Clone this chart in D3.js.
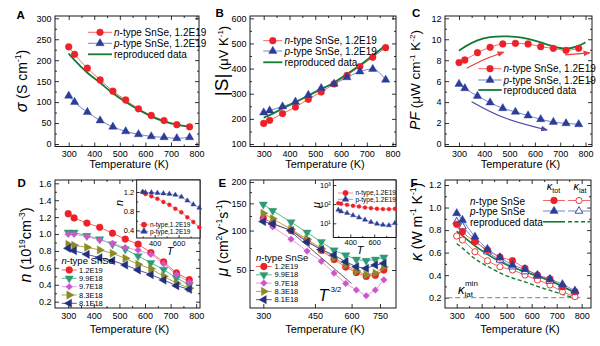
<!DOCTYPE html>
<html><head><meta charset="utf-8">
<script src="https://cdn.jsdelivr.net/npm/d3@7"></script>
<style>body{margin:0;background:#fff}</style>
</head><body>
<svg id="c" width="600" height="346" xmlns="http://www.w3.org/2000/svg"></svg>
<script>
// ---------------- DATA ----------------
const T = [300,323,373,423,473,523,573,623,673,723,773];
// A: electrical conductivity (S cm^-1)
const sigmaN   = [232,214,181,153,126,105,84,68,56,46,41];
const sigmaP   = [115,100,76,56,41,30,23,18,16,13.5,16];
const sigmaRep = [216,200,170,146,121,100,82,66,54,46,41];
// B: |S| (uV K^-1)
const seebN   = [182,194,221,247,278,307,339,373,408,445,483];
const seebP   = [225,233,249,268,295,322,339,365,388,398,355];
const seebRep = [205,215,241,266,292,318,345,378,413,452,493];
// C: power factor
const pfN    = [7.77,8.02,8.72,9.23,9.55,9.61,9.55,9.29,9.13,8.94,9.13];
const pfP    = [5.73,5.31,4.58,3.95,3.41,3.06,2.71,2.36,2.10,1.97,1.88];
const pfRepT = [300,323,373,423,473,523,573,623,673,723,773,800];
const pfRep  = [8.91,9.3,9.95,10.25,10.3,10.25,10.05,9.7,9.3,9.0,9.35,9.7];
const arrowN1T = [330,403,475], arrowN1V = [7.23,8.09,8.76];
const arrowN2T = [719,815],     arrowN2V = [8.5,8.7];
const arrowPT  = [350,480,647], arrowPV  = [4.04,2.5,1.34];
// D: carrier concentration (1e19 cm^-3)
const dLabels = ["1.2E19","9.9E18","9.7E18","8.3E18","8.1E18"];
const n12 = [1.24,1.19,1.13,1.08,1.01,0.94,0.88,0.78,0.67,0.54,0.46];
const n99 = [1.02,1.02,0.98,0.94,0.88,0.82,0.74,0.66,0.58,0.48,0.40];
const n97 = [0.997,0.997,0.97,0.93,0.89,0.84,0.81,0.76,0.65,0.52,0.43];
const n83 = [0.878,0.867,0.843,0.811,0.772,0.713,0.642,0.59,0.50,0.42,0.36];
const n81 = [0.831,0.803,0.760,0.720,0.685,0.634,0.575,0.52,0.456,0.389,0.346];
const nInsetN = [1.2,1.158,1.11,1.06,0.992,0.935,0.852,0.777,0.673,0.575,0.465];
const nInsetP = [1.2,1.19,1.19,1.18,1.17,1.16,1.14,1.10,1.02,0.94,0.87];
// E: mobility (cm2 V-1 s-1)
const mu12 = [121,112,100,85,72,61,53,47.5,44,45,50];
const mu99 = [148,135,114,97,83,72,66,61,59.6,61,63.5];
const mu97 = [119,106,87,71,59,47,38,33,29,33,41];
const mu83 = [130,120,102,87,74,63,55,49,45.5,47,53];
const mu81 = [115,111,100,83,73,66,58.6,53.3,51.6,55,56.8];
const muInsetN = [113,104,92,82,76,67,62,57,55,55,57];
const muInsetP = [50,41.6,34,25.8,20.2,15.2,11.6,9.4,8.3,7.8,10.2];
const t32T = [373,600], t32V = [98,38];
// F: thermal conductivity
const kTotN = [0.851,0.786,0.697,0.623,0.561,0.528,0.461,0.401,0.366,0.298,0.253];
const kTotP = [0.949,0.889,0.741,0.632,0.558,0.49,0.452,0.401,0.366,0.319,0.262];
const kLatN = [0.747,0.712,0.608,0.528,0.475,0.446,0.401,0.357,0.313,0.253,0.209];
const kLatP = [0.874,0.83,0.712,0.608,0.535,0.475,0.431,0.393,0.348,0.298,0.253];
const kRepTot = [0.79,0.75,0.66,0.585,0.52,0.47,0.43,0.39,0.35,0.30,0.245];
const kRepLat = [0.68,0.64,0.545,0.48,0.42,0.375,0.34,0.30,0.265,0.23,0.195];
const kMinT = [262,800], kMinV = [0.2,0.2];
// tick values
const tTicks = [300,400,500,600,700,800], tMinor = [350,450,550,650,750];
const tTicksE = [300,450,600,750];

// ---------------- STYLE ----------------
const FN = "'Liberation Sans Narrow','Arial Narrow','Liberation Sans',Arial,sans-serif";
const FB = "'Liberation Sans',Arial,sans-serif";
const RED="#ee2128", REDL="#f2676b", BLUE="#2c3d98", BLUEL="#7285cc", GREEN="#137a32";
const TICKFS=9, LEGFS=10, TEMPFS=11;
const svg = d3.select("#c");
const defs = svg.append("defs");
function arrowHead(id,col){
  defs.append("marker").attr("id",id).attr("viewBox","0 0 10 10").attr("refX",8).attr("refY",5)
   .attr("markerWidth",6).attr("markerHeight",6).attr("orient","auto")
   .append("path").attr("d","M0,1 L10,5 L0,9 z").attr("fill",col);
}
arrowHead("ahR","#ee3a3a"); arrowHead("ahB","#4a4aa8");

const P = {A:{l:55,r:199,t:16,b:146.5},B:{l:250,r:396,t:16,b:146.5},C:{l:445,r:592,t:16,b:146.5},
           D:{l:55,r:200,t:180,b:308},E:{l:250,r:396,t:180,b:308},F:{l:445,r:591,t:180,b:308}};
function lin(d0,r0,d1,r1,rA,rB){const s=d3.scaleLinear().domain([d0,d1]).range([r0,r1]);
  return d3.scaleLinear().domain([s.invert(rA),s.invert(rB)]).range([rA,rB]);}
function lg(d0,r0,d1,r1,rA,rB){const s=d3.scaleLog().domain([d0,d1]).range([r0,r1]);
  return d3.scaleLog().domain([s.invert(rA),s.invert(rB)]).range([rA,rB]);}

const SYM={circle:d3.symbolCircle,up:d3.symbolTriangle,down:d3.symbolTriangle,right:d3.symbolTriangle,left:d3.symbolTriangle,diamond:d3.symbolSquare};
const ROT={down:180,right:90,left:-90,diamond:45};

function axes(g,x,y,p,o){
  const fs=o.fs||TICKFS, tk=o.tk||4, mt=o.mt||2;
  const inX=v=>x(v)>=p.l-0.1&&x(v)<=p.r+0.1, inY=v=>y(v)<=p.b+0.1&&y(v)>=p.t-0.1;
  const xt=o.xt.filter(inX), xm=(o.xm||[]).filter(inX), yt=o.yt.filter(inY), ym=(o.ym||[]).filter(inY);
  g.append("rect").attr("x",p.l).attr("y",p.t).attr("width",p.r-p.l).attr("height",p.b-p.t)
    .attr("fill",o.fill||"none").attr("stroke","none");
  const st=sel=>{sel.select(".domain").remove();sel.selectAll("line").attr("stroke","#000").attr("stroke-width",0.8);
    sel.selectAll("text").attr("font-family",FN).attr("font-size",fs).attr("fill","#000");};
  g.append("g").attr("transform",`translate(0,${p.b})`).call(d3.axisBottom(x).tickValues(xt).tickSize(-tk).tickPadding(o.xpad||4.5).tickFormat(o.xf||d3.format("d"))).call(st);
  g.append("g").attr("transform",`translate(${p.l},0)`).call(d3.axisLeft(y).tickValues(yt).tickSize(-tk).tickPadding(o.ypad||3.5).tickFormat(o.yf||d3.format("d"))).call(st);
  if(!o.noTR){
    g.append("g").attr("transform",`translate(0,${p.t})`).call(d3.axisTop(x).tickValues(xt).tickSize(-tk).tickFormat("")).call(st);
    g.append("g").attr("transform",`translate(${p.r},0)`).call(d3.axisRight(y).tickValues(yt).tickSize(-tk).tickFormat("")).call(st);
  }
  if(xm.length){
    g.append("g").attr("transform",`translate(0,${p.b})`).call(d3.axisBottom(x).tickValues(xm).tickSize(-mt).tickFormat("")).call(st);
    if(!o.noTR) g.append("g").attr("transform",`translate(0,${p.t})`).call(d3.axisTop(x).tickValues(xm).tickSize(-mt).tickFormat("")).call(st);
  }
  if(ym.length){
    g.append("g").attr("transform",`translate(${p.l},0)`).call(d3.axisLeft(y).tickValues(ym).tickSize(-mt).tickFormat("")).call(st);
    if(!o.noTR) g.append("g").attr("transform",`translate(${p.r},0)`).call(d3.axisRight(y).tickValues(ym).tickSize(-mt).tickFormat("")).call(st);
  }
  g.append("rect").attr("x",p.l).attr("y",p.t).attr("width",p.r-p.l).attr("height",p.b-p.t)
    .attr("fill","none").attr("stroke","#000").attr("stroke-width",0.9);
}
function line(g,x,y,xs,ys,col,lw,dash,curve){
  return g.append("path").datum(xs.map((t,i)=>[t,ys[i]]))
   .attr("d",d3.line().x(d=>x(d[0])).y(d=>y(d[1])).curve(curve||d3.curveMonotoneX))
   .attr("fill","none").attr("stroke",col).attr("stroke-width",lw||1).attr("stroke-dasharray",dash||null);
}
function marks(g,x,y,xs,ys,col,sym,size,open){
  const s=d3.symbol().type(SYM[sym]).size(size||30);
  g.selectAll(null).data(xs.map((t,i)=>[t,ys[i]])).join("path").attr("d",s)
   .attr("transform",d=>`translate(${x(d[0])},${y(d[1])}) rotate(${ROT[sym]||0})`)
   .attr("fill",open?"#fff":col).attr("stroke",col).attr("stroke-width",open?0.9:0.4);
}
function mark1(g,cx,cy,col,sym,size,open){
  g.append("path").attr("d",d3.symbol().type(SYM[sym]).size(size||30)())
   .attr("transform",`translate(${cx},${cy}) rotate(${ROT[sym]||0})`)
   .attr("fill",open?"#fff":col).attr("stroke",col).attr("stroke-width",open?0.9:0.4);
}
function rich(g,x,y,parts,o){
  o=o||{};
  const t=g.append("text").attr("font-family",o.font||FN).attr("text-anchor",o.anchor||"start").attr("fill",o.fill||"#000");
  if(o.rot) t.attr("transform",`translate(${x},${y}) rotate(-90)`); else t.attr("x",x).attr("y",y);
  let cur=0;
  parts.forEach(pt=>{const off=pt.off||0;
    const s=t.append("tspan").attr("font-size",pt.fs).attr("dy",off-cur).text(pt.t);
    if(pt.dx) s.attr("dx",pt.dx);
    if(pt.it) s.attr("font-style","italic"); if(pt.b) s.attr("font-weight","bold"); cur=off;});
  return t;
}
function plain(g,x,y,txt,fs,o){o=o||{};
  return g.append("text").attr("x",x).attr("y",y).attr("font-family",o.font||FN).attr("font-size",fs)
   .attr("text-anchor",o.anchor||"start").attr("font-style",o.it?"italic":null).attr("font-weight",o.b?"bold":null).text(txt);}
function legRow(g,x0,x1,y,col,lcol,sym,txtParts,tx,fs,lw,size,open){
  g.append("line").attr("x1",x0).attr("x2",x1).attr("y1",y).attr("y2",y).attr("stroke",lcol).attr("stroke-width",lw||1);
  if(sym) mark1(g,(x0+x1)/2,y,col,sym,size,open);
  if(txtParts) rich(g,tx,y+fs*0.35,txtParts);
}
const nT=fs=>[{t:"n",fs,it:1},{t:"-type SnSe, 1.2E19",fs}];
const pT=fs=>[{t:"p",fs,it:1},{t:"-type SnSe, 1.2E19",fs}];
function tempLabel(g,p,yb){plain(g,(p.l+p.r)/2+2,yb,"Temperature (K)",TEMPFS,{anchor:"middle"});}

// ---------------- PANEL A ----------------
{
 const p=P.A, g=svg.append("g");
 const x=lin(300,68.7,800,196.5,p.l,p.r), y=lin(0,144,300,18.3,p.b,p.t);
 axes(g,x,y,p,{xt:tTicks,xm:tMinor,yt:[0,50,100,150,200,250,300],ym:[25,75,125,175,225,275]});
 line(g,x,y,T,sigmaN,REDL,1); line(g,x,y,T,sigmaP,BLUEL,1); line(g,x,y,T,sigmaRep,GREEN,1.8);
 marks(g,x,y,T,sigmaN,RED,"circle",36); marks(g,x,y,T,sigmaP,BLUE,"up",30);
 legRow(g,88,112,32.3,RED,REDL,"circle",nT(LEGFS),114,LEGFS,1,36);
 legRow(g,88,112,43.3,BLUE,BLUEL,"up",pT(LEGFS),114,LEGFS,1,30);
 legRow(g,88,112,54.3,GREEN,GREEN,null,null,0,LEGFS,1.8); plain(g,114,57.8,"reproduced data",LEGFS);
 tempLabel(g,p,168);
 rich(g,26.5,81,[{t:"σ",fs:16,it:1},{t:" (S cm",fs:14},{t:"-1",fs:8.5,off:-6},{t:")",fs:14}],{rot:1,anchor:"middle"});
 plain(g,16.5,18.5,"A",11.5,{font:FB,b:1});
}
// ---------------- PANEL B ----------------
{
 const p=P.B, g=svg.append("g");
 const x=lin(300,263.7,800,392.6,p.l,p.r), y=lin(100,144,600,18.3,p.b,p.t);
 axes(g,x,y,p,{xt:tTicks,xm:tMinor,yt:[100,200,300,400,500,600],ym:[150,250,350,450,550]});
 line(g,x,y,T,seebN,REDL,1); line(g,x,y,T,seebP,BLUEL,1); line(g,x,y,T,seebRep,GREEN,1.8);
 marks(g,x,y,T,seebN,RED,"circle",36); marks(g,x,y,T,seebP,BLUE,"up",30);
 legRow(g,263.3,282.3,40.7,RED,REDL,"circle",nT(LEGFS),284.5,LEGFS,1,36);
 legRow(g,263.3,282.3,51,BLUE,BLUEL,"up",pT(LEGFS),284.5,LEGFS,1,30);
 legRow(g,263.3,282.3,62.3,GREEN,GREEN,null,null,0,LEGFS,1.8); plain(g,284.5,65.8,"reproduced data",LEGFS);
 tempLabel(g,p,168);
 rich(g,228,61,[{t:"|S|",fs:19},{t:" (μV K",fs:13},{t:"-1",fs:8,off:-5},{t:")",fs:13}],{rot:1,anchor:"middle"});
 plain(g,215.5,17,"B",11.5,{font:FB,b:1});
}
// ---------------- PANEL C ----------------
{
 const p=P.C, g=svg.append("g");
 const x=lin(300,459,800,585.5,p.l,p.r), y=lin(0,144,12,18.3,p.b,p.t);
 axes(g,x,y,p,{xt:tTicks,xm:tMinor,yt:[0,2,4,6,8,10,12],ym:[1,3,5,7,9,11]});
 line(g,x,y,T,pfN,REDL,1); line(g,x,y,T,pfP,BLUEL,1); line(g,x,y,pfRepT,pfRep,GREEN,1.8,null,d3.curveBasis);
 marks(g,x,y,T,pfN,RED,"circle",36); marks(g,x,y,T,pfP,BLUE,"up",30);
 line(g,x,y,arrowN1T,arrowN1V,"#ee3a3a",1.2,null,d3.curveNatural).attr("marker-end","url(#ahR)");
 line(g,x,y,arrowN2T,arrowN2V,"#ee3a3a",1.2,null,d3.curveLinear).attr("marker-end","url(#ahR)");
 line(g,x,y,arrowPT,arrowPV,"#4a4aa8",1.2,null,d3.curveNatural).attr("marker-end","url(#ahB)");
 legRow(g,478.3,501.7,68.7,RED,REDL,"circle",nT(LEGFS),503.5,LEGFS,1,36);
 legRow(g,478.3,501.7,80,BLUE,BLUEL,"up",pT(LEGFS),503.5,LEGFS,1,30);
 legRow(g,478.3,501.7,90,GREEN,GREEN,null,null,0,LEGFS,1.8); plain(g,503.5,93.5,"reproduced data",LEGFS);
 tempLabel(g,p,168);
 rich(g,420,80,[{t:"PF",fs:14,it:1},{t:" (μW cm",fs:13.5},{t:"-1",fs:8,off:-5},{t:" K",fs:13.5},{t:"-2",fs:8,off:-5},{t:")",fs:13.5}],{rot:1,anchor:"middle"});
 plain(g,412,17,"C",11.5,{font:FB,b:1});
}
// ---------------- PANEL D ----------------
const dStyles=[{c:RED,l:REDL,s:"circle",z:36},{c:"#2f9a74",l:"#5bb893",s:"down",z:30},{c:"#cf55cc",l:"#e59be2",s:"diamond",z:22},{c:"#8b8b26",l:"#a9a944",s:"right",z:30},{c:"#24307f",l:"#4f5aa5",s:"left",z:30}];
{
 const p=P.D, g=svg.append("g");
 const x=lin(300,68.2,800,196.2,p.l,p.r), y=lin(1.6,183.3,0.2,301.7,p.b,p.t);
 axes(g,x,y,p,{xt:tTicks,xm:tMinor,yt:[0.2,0.4,0.6,0.8,1.0,1.2,1.4,1.6],ym:[0.3,0.5,0.7,0.9,1.1,1.3,1.5],yf:d3.format(".1f")});
 [n12,n99,n97,n83,n81].forEach((d,i)=>line(g,x,y,T,d,dStyles[i].l,1,null,d3.curveLinear));
 [n12,n99,n97,n83,n81].forEach((d,i)=>marks(g,x,y,T,d,dStyles[i].c,dStyles[i].s,dStyles[i].z));
 rich(g,61.5,264,[{t:"n",fs:9.5,it:1},{t:"-type SnSe",fs:9.5}]);
 const ly=[270,278.3,286.7,295,303.3];
 dLabels.forEach((lb,i)=>{legRow(g,61.7,76.7,ly[i],dStyles[i].c,dStyles[i].l,dStyles[i].s,[{t:lb,fs:7.5}],79,7.5,1,dStyles[i].z);});
 // inset
 const pi={l:136.7,r:200,t:180,b:238};
 const xi=lin(300,142.7,773,199.3,pi.l,pi.r), yi=lin(1.2,192,0.4,230.4,pi.b,pi.t);
 axes(g,xi,yi,pi,{xt:[400,600],xm:[300,500,700],yt:[0.4,0.8,1.2],ym:[0.6,1.0],yf:d3.format(".1f"),fs:7.5,tk:3,mt:1.5,xpad:2.5,ypad:2.5,fill:"#fff",noTR:1});
 line(g,xi,yi,T,nInsetN,REDL,0.8,null,d3.curveLinear); line(g,xi,yi,T,nInsetP,BLUEL,0.8,null,d3.curveLinear);
 marks(g,xi,yi,T,nInsetN,RED,"circle",12); marks(g,xi,yi,T,nInsetP,BLUE,"up",11);
 legRow(g,139.5,148.5,224.7,RED,REDL,"circle",[{t:"n-type,1.2E19",fs:6.5}],150,6.5,0.8,22);
 legRow(g,139.5,148.5,231.3,BLUE,BLUEL,"up",[{t:"p-type,1.2E19",fs:6.5}],150,6.5,0.8,20);
 rich(g,122.5,203,[{t:"n",fs:11,it:1}],{rot:1,anchor:"middle"});
 plain(g,170,255,"T",11,{it:1,anchor:"middle"});
 tempLabel(g,p,333);
 rich(g,31,245,[{t:"n",fs:16,it:1},{t:" (10",fs:14.5},{t:"19",fs:8.5,off:-6},{t:"cm",fs:14.5},{t:"-3",fs:8.5,off:-6},{t:")",fs:14.5}],{rot:1,anchor:"middle"});
 plain(g,17.5,187,"D",11.5,{font:FB,b:1});
}
// ---------------- PANEL E ----------------
{
 const p=P.E, g=svg.append("g");
 const x=lg(300,263.3,750,380,p.l,p.r);
 const y0=d3.scalePow().exponent(0.3).domain([50,200]).range([270,182]);
 const y=d3.scalePow().exponent(0.3).domain([y0.invert(p.b),y0.invert(p.t)]).range([p.b,p.t]);
 axes(g,x,y,p,{xt:tTicksE,yt:[50,100,150,200],ym:[75,125,175]});
 [mu12,mu99,mu97,mu83,mu81].forEach((d,i)=>line(g,x,y,T,d,dStyles[i].l,1,null,d3.curveLinear));
 [mu12,mu99,mu97,mu83,mu81].forEach((d,i)=>marks(g,x,y,T,d,dStyles[i].c,dStyles[i].s,dStyles[i].z));
 line(g,x,y,t32T,t32V,"#333",0.8,null,d3.curveLinear);
 rich(g,318.5,300.5,[{t:"T",fs:16,it:1},{t:"-3/2",fs:7.5,off:-9}]);
 rich(g,256,260.5,[{t:"n",fs:9.5,it:1},{t:"-type SnSe",fs:9.5}]);
 const ly=[266.5,274.8,283.1,291.4,299.7];
 dLabels.forEach((lb,i)=>{legRow(g,256,271.7,ly[i],dStyles[i].c,dStyles[i].l,dStyles[i].s,[{t:lb,fs:7.5}],274.5,7.5,1,dStyles[i].z);});
 // inset
 const pi={l:333.3,r:396,t:180,b:237.5};
 const xi=lin(300,338.3,773,394.9,pi.l,pi.r), yi=lg(10,223.3,1000,185,pi.b,pi.t);
 axes(g,xi,yi,pi,{xt:[400,600],xm:[300,500,700],yt:[10,100,1000],yf:v=>"10"+({10:"¹",100:"²",1000:"³"}[v]),fs:7.5,tk:3,mt:1.5,xpad:2.5,ypad:2.5,fill:"#fff",noTR:1});
 line(g,xi,yi,T,muInsetN,REDL,0.8,null,d3.curveLinear); line(g,xi,yi,T,muInsetP,BLUEL,0.8,null,d3.curveLinear);
 marks(g,xi,yi,T,muInsetN,RED,"circle",12); marks(g,xi,yi,T,muInsetP,BLUE,"up",11);
 legRow(g,338,353,193,RED,REDL,"circle",[{t:"n-type,1.2E19",fs:6.5}],355.5,6.5,0.8,22);
 legRow(g,338,353,199.3,BLUE,BLUEL,"up",[{t:"p-type,1.2E19",fs:6.5}],355.5,6.5,0.8,20);
 rich(g,320,205,[{t:"μ",fs:11,it:1}],{rot:1,anchor:"middle"});
 plain(g,360,254,"T",11,{it:1,anchor:"middle"});
 tempLabel(g,p,333);
 rich(g,228,238,[{t:"μ",fs:16,it:1},{t:" (cm",fs:14},{t:"2",fs:8.5,off:-6},{t:"V",fs:14},{t:"-1",fs:8.5,off:-6},{t:"s",fs:14},{t:"-1",fs:8.5,off:-6},{t:")",fs:14}],{rot:1,anchor:"middle"});
 plain(g,218.5,187,"E",11.5,{font:FB,b:1});
}
// ---------------- PANEL F ----------------
{
 const p=P.F, g=svg.append("g");
 const x=lin(300,456.7,800,581.7,p.l,p.r), y=lin(1.2,185,0.2,297.7,p.b,p.t);
 axes(g,x,y,p,{xt:tTicks,xm:tMinor,yt:[0.2,0.4,0.6,0.8,1.0,1.2],ym:[0.3,0.5,0.7,0.9,1.1],yf:d3.format(".1f")});
 line(g,x,y,kMinT,kMinV,"#9a9a9a",1.2,"5,3",d3.curveLinear);
 line(g,x,y,T,kLatN,REDL,1); line(g,x,y,T,kLatP,BLUEL,1);
 line(g,x,y,T,kTotN,REDL,1); line(g,x,y,T,kTotP,BLUEL,1);
 line(g,x,y,T,kRepTot,GREEN,1.6); line(g,x,y,T,kRepLat,GREEN,1.4,"4,2.5");
 marks(g,x,y,T,kLatN,RED,"circle",30,1); marks(g,x,y,T,kLatP,BLUE,"up",26,1);
 marks(g,x,y,T,kTotN,RED,"circle",36); marks(g,x,y,T,kTotP,BLUE,"up",30);
 rich(g,553.5,190,[{t:"κ",fs:11,it:1},{t:"tot",fs:7,off:2.5}],{anchor:"middle"});
 rich(g,580,190,[{t:"κ",fs:11,it:1},{t:"lat",fs:7,off:2.5}],{anchor:"middle"});
 legRow(g,543,565,200.5,RED,REDL,"circle",null,0,LEGFS,1,36);
 legRow(g,568,590,200.5,RED,REDL,"circle",null,0,LEGFS,1,30,1);
 legRow(g,543,565,211,BLUE,BLUEL,"up",null,0,LEGFS,1,30);
 legRow(g,568,590,211,BLUE,BLUEL,"up",null,0,LEGFS,1,26,1);
 g.append("line").attr("x1",543).attr("x2",565).attr("y1",221.8).attr("y2",221.8).attr("stroke",GREEN).attr("stroke-width",1.6);
 g.append("line").attr("x1",568).attr("x2",590).attr("y1",221.8).attr("y2",221.8).attr("stroke",GREEN).attr("stroke-width",1.4).attr("stroke-dasharray","4,2.5");
 rich(g,470,204.5,[{t:"n",fs:LEGFS,it:1},{t:"-type SnSe",fs:LEGFS}]);
 rich(g,470,215,[{t:"p",fs:LEGFS,it:1},{t:"-type SnSe",fs:LEGFS}]);
 plain(g,470,225.5,"reproduced data",LEGFS);
 rich(g,458,293.5,[{t:"κ",fs:13,it:1},{t:"lat",fs:8,off:3},{t:"min",fs:8,off:-8,dx:-8}]);
 tempLabel(g,p,333);
 rich(g,421.5,222,[{t:"κ",fs:16,it:1},{t:" (W m",fs:14},{t:"-1",fs:8.5,off:-6},{t:" K",fs:14},{t:"-1",fs:8.5,off:-6},{t:")",fs:14}],{rot:1,anchor:"middle"});
 plain(g,410.5,187,"F",11.5,{font:FB,b:1});
}
</script>
</body></html>
